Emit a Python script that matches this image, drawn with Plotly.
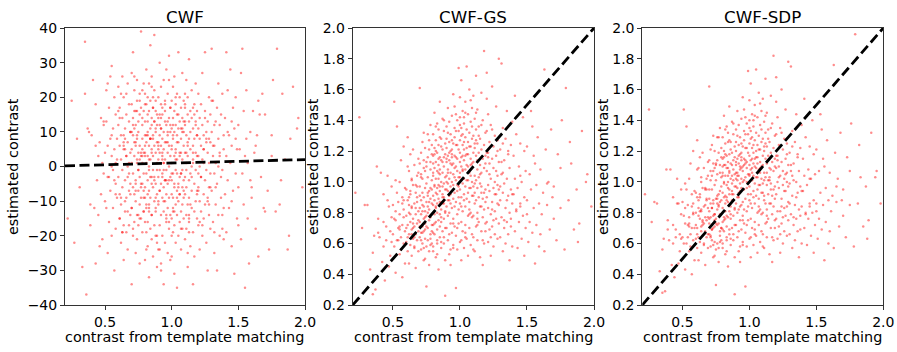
import plotly.graph_objects as go

# Contrast from template matching (x, shared by all three estimators)
template_contrast = [
    0.22, 0.25, 0.27, 0.29,
    0.31, 0.33, 0.35, 0.36, 0.37, 0.38, 0.39,
    0.40, 0.41, 0.42, 0.43, 0.43, 0.44, 0.45, 0.45, 0.46, 0.47, 0.47, 0.48, 0.48, 0.49, 0.49,
    0.50, 0.50, 0.51, 0.51, 0.52, 0.52, 0.53, 0.53, 0.53, 0.54, 0.54, 0.55, 0.55, 0.55,
    0.56, 0.56, 0.57, 0.57, 0.57, 0.58, 0.58, 0.58, 0.59, 0.59, 0.59, 0.52, 0.56,
    0.60, 0.60, 0.60, 0.61, 0.61, 0.61, 0.61, 0.62, 0.62, 0.62, 0.62, 0.63, 0.63, 0.63,
    0.63, 0.64, 0.64, 0.64, 0.64, 0.65, 0.65, 0.65, 0.65, 0.66, 0.66, 0.66, 0.66, 0.67,
    0.67, 0.67, 0.67, 0.68, 0.68, 0.68, 0.68, 0.69, 0.69, 0.69, 0.69, 0.62, 0.65, 0.68,
    0.70, 0.70, 0.70, 0.70, 0.70, 0.70,
    0.71, 0.71, 0.71, 0.71, 0.71, 0.71,
    0.72, 0.72, 0.72, 0.72, 0.72, 0.72,
    0.73, 0.73, 0.73, 0.73, 0.73, 0.73,
    0.74, 0.74, 0.74, 0.74, 0.74, 0.74,
    0.75, 0.75, 0.75, 0.75, 0.75, 0.75,
    0.76, 0.76, 0.76, 0.76, 0.76, 0.76,
    0.77, 0.77, 0.77, 0.77, 0.77,
    0.78, 0.78, 0.78, 0.78, 0.78,
    0.79, 0.79, 0.79, 0.79, 0.79,
    0.80, 0.80, 0.80, 0.80, 0.80, 0.80, 0.80,
    0.81, 0.81, 0.81, 0.81, 0.81, 0.81, 0.81,
    0.82, 0.82, 0.82, 0.82, 0.82, 0.82, 0.82,
    0.83, 0.83, 0.83, 0.83, 0.83, 0.83, 0.83,
    0.84, 0.84, 0.84, 0.84, 0.84, 0.84, 0.84,
    0.85, 0.85, 0.85, 0.85, 0.85, 0.85, 0.85,
    0.86, 0.86, 0.86, 0.86, 0.86, 0.86,
    0.87, 0.87, 0.87, 0.87, 0.87, 0.87,
    0.88, 0.88, 0.88, 0.88, 0.88, 0.88,
    0.89, 0.89, 0.89, 0.89, 0.89, 0.89,
    0.90, 0.90, 0.90, 0.90, 0.90, 0.90, 0.90,
    0.91, 0.91, 0.91, 0.91, 0.91, 0.91, 0.91,
    0.92, 0.92, 0.92, 0.92, 0.92, 0.92, 0.92,
    0.93, 0.93, 0.93, 0.93, 0.93, 0.93, 0.93,
    0.94, 0.94, 0.94, 0.94, 0.94, 0.94, 0.94,
    0.95, 0.95, 0.95, 0.95, 0.95, 0.95, 0.95,
    0.96, 0.96, 0.96, 0.96, 0.96, 0.96,
    0.97, 0.97, 0.97, 0.97, 0.97, 0.97,
    0.98, 0.98, 0.98, 0.98, 0.98, 0.98,
    0.99, 0.99, 0.99, 0.99, 0.99, 0.99,
    1.00, 1.00, 1.00, 1.00, 1.00, 1.00, 1.00,
    1.01, 1.01, 1.01, 1.01, 1.01, 1.01, 1.01,
    1.02, 1.02, 1.02, 1.02, 1.02, 1.02, 1.02,
    1.03, 1.03, 1.03, 1.03, 1.03, 1.03,
    1.04, 1.04, 1.04, 1.04, 1.04, 1.04,
    1.05, 1.05, 1.05, 1.05, 1.05, 1.05,
    1.06, 1.06, 1.06, 1.06, 1.06, 1.06,
    1.07, 1.07, 1.07, 1.07, 1.07, 1.07,
    1.08, 1.08, 1.08, 1.08, 1.08, 1.08,
    1.09, 1.09, 1.09, 1.09, 1.09, 1.09,
    1.10, 1.10, 1.10, 1.10, 1.10, 1.10,
    1.11, 1.11, 1.11, 1.11, 1.11, 1.11,
    1.12, 1.12, 1.12, 1.12, 1.12, 1.12,
    1.13, 1.13, 1.13, 1.13, 1.13, 1.13,
    1.14, 1.14, 1.14, 1.14, 1.14,
    1.15, 1.15, 1.15, 1.15, 1.15,
    1.16, 1.16, 1.16, 1.16, 1.16,
    1.17, 1.17, 1.17, 1.17, 1.17,
    1.18, 1.18, 1.18, 1.18, 1.18,
    1.19, 1.19, 1.19, 1.19, 1.19,
    1.20, 1.20, 1.20, 1.20, 1.20,
    1.21, 1.21, 1.21, 1.21, 1.21,
    1.22, 1.22, 1.22, 1.22,
    1.23, 1.23, 1.23, 1.23,
    1.24, 1.24, 1.24, 1.24,
    1.25, 1.25, 1.25, 1.25,
    1.26, 1.26, 1.26, 1.26,
    1.27, 1.27, 1.27, 1.27,
    1.28, 1.28, 1.28, 1.28,
    1.29, 1.29, 1.29, 1.29,
    1.30, 1.30, 1.30, 1.31, 1.31, 1.31, 1.32, 1.32, 1.32, 1.33, 1.33, 1.33,
    1.34, 1.34, 1.34, 1.35, 1.35, 1.35, 1.36, 1.36, 1.36, 1.37, 1.37, 1.37,
    1.38, 1.38, 1.38, 1.39, 1.39, 1.39,
    1.40, 1.40, 1.41, 1.41, 1.42, 1.42, 1.43, 1.43, 1.44, 1.44, 1.45, 1.45,
    1.46, 1.46, 1.47, 1.47, 1.48, 1.48, 1.49, 1.49, 1.41, 1.45, 1.48,
    1.50, 1.50, 1.51, 1.52, 1.52, 1.53, 1.54, 1.54, 1.55, 1.56, 1.56, 1.57, 1.57,
    1.58, 1.59, 1.59, 1.53,
    1.60, 1.61, 1.62, 1.63, 1.64, 1.65, 1.66, 1.67, 1.68, 1.69, 1.63,
    1.70, 1.72, 1.73, 1.75, 1.76, 1.78, 1.79,
    1.81, 1.83, 1.85, 1.87, 1.89,
    1.91, 1.94, 1.98,
    0.55, 0.58, 0.61, 0.63, 0.64, 0.66, 0.67, 0.69, 0.70, 0.72,
    0.73, 0.74, 0.76, 0.77, 0.78, 0.79, 0.80, 0.81, 0.82, 0.83,
    0.84, 0.85, 0.86, 0.87, 0.88, 0.89, 0.90, 0.91, 0.92, 0.93,
    0.94, 0.95, 0.96, 0.97, 0.98, 0.99, 1.00, 1.01, 1.02, 1.03,
    1.04, 1.05, 1.06, 1.07, 1.08, 1.09, 1.10, 1.11, 1.12, 1.13,
    0.62, 0.65, 0.68, 0.71, 0.74, 0.77, 0.80, 0.83, 0.86, 0.89,
    0.92, 0.95, 0.98, 1.01, 1.04, 1.07, 1.10, 1.13, 1.16, 1.19,
    0.76, 0.79, 0.82, 0.85, 0.88, 0.91, 0.94, 0.97, 1.00, 1.03,
    1.15, 1.18, 1.21, 1.24, 1.27, 1.30, 1.33, 1.36, 1.39, 1.42,
    0.51, 0.54, 0.57, 0.60, 0.63, 0.66, 0.69, 0.72, 0.75, 0.78,
    0.81, 0.84, 0.87, 0.90, 0.93, 0.96, 0.99, 1.02, 1.05, 1.08,
    0.71, 0.73, 0.75, 0.78, 0.80, 0.83, 0.85, 0.88, 0.90, 0.93,
    1.11, 1.14, 1.17, 1.20, 1.23, 1.26, 1.29, 1.32, 1.35, 1.38,
    0.64, 0.67, 0.70, 0.73, 0.76, 0.79, 0.82, 0.85, 0.88, 0.91,
    0.94, 0.97, 1.00, 1.03, 1.06, 1.09, 0.87, 0.84, 0.81, 0.78,
    1.45, 1.50, 1.55, 1.60, 1.65, 1.70, 1.75, 1.82, 1.88, 1.95,
    0.35, 0.39, 0.43, 0.46, 0.49, 0.52, 0.55, 0.58, 0.61, 0.64,
    0.96, 1.00, 1.04, 1.08, 1.12, 1.16, 1.20, 1.24, 1.28, 1.32,
    0.74, 0.77, 0.80, 0.83, 0.86, 0.89, 0.92, 0.95, 0.98, 1.01,
    1.04, 1.07, 1.10, 1.13, 1.16, 1.19, 1.22, 1.25, 1.28, 1.31,
]

# Estimated contrast, plain CWF
cwf_contrast = [
    -15, 19, -22, 8,
    -6, -29, 36, -37, 11, 10, -17,
    9, 25, -12, -28, 18, -4, 3, -14, 7, 14, -8, -21, 1, 12, -2,
    4, -10, 22, 13, -25, 6, -3, 17, -16, 26, -7, 9, -20, 0,
    11, -12, 20, -30, 5, -5, 15, -18, 2, 8, -9, 24, -1,
    12, -3, 23, -15, 6, -8, 17, 2, -22, 9, -11, 26, -6, 14,
    -1, 5, -17, 20, -27, 8, -4, 11, -13, 3, 15, -9, -19, 24,
    0, 7, -24, 13, -7, 18, -2, 10, -14, 4, -5, 21, -10, 1,
    5, -12, 18, -34, 27, 1,
    -6, 14, -20, 9, 33, -2,
    11, -8, 3, -16, 22, 7,
    -25, 16, -4, 12, -10, 6,
    19, -14, 2, 8, -21, 25,
    -1, 13, -7, 4, -17, 10,
    15, -11, 21, -3, 6, -28,
    3, -9, 17, 39, -15,
    8, -19, 12, -5, 1,
    -13, 24, 4, -7, 16,
    4, -16, 21, 9, -6, 13, -27,
    18, -2, 7, -11, 28, 1, -19,
    -8, 15, 3, -23, 10, -4, 20,
    6, -13, 24, 0, -7, 16, -32,
    11, -18, 2, 8, -9, 35, 19,
    -3, 14, -21, 5, 12, -14, 26,
    9, -6, 17, -26, 3, -1,
    22, -10, 6, 13, -17, 38,
    -5, 10, -12, 4, 19, -20,
    15, -8, 1, -29, 7, 12,
    -11, 7, 20, -3, 14, -24, 2,
    9, -17, 4, 30, -7, 12, -1,
    -14, 18, -5, 6, -30, 11, 23,
    3, -9, 15, -20, 8, -2, 17,
    -6, 25, 1, -13, 10, -34, 5,
    13, -4, 19, -10, 2, 16, -22,
    -8, 7, -16, 12, 28, -1,
    21, -12, 4, -25, 9, -5,
    0, 14, -18, 6, -9, 32,
    -3, 10, -14, 17, 3, -27,
    6, -15, 19, -4, 11, -26, 1,
    -9, 14, -2, 23, -19, 8, -12,
    16, -6, 3, -31, 10, -17, 26,
    -1, 12, -11, 5, -22, 18,
    9, -7, 21, -14, 2, -35,
    -5, 15, -20, 7, 33, -10,
    13, -3, -16, 4, 20, -8,
    -13, 8, -24, 17, -2, 11,
    2, -18, 14, -6, 27, -11,
    -7, 19, -15, 10, -4, 6,
    12, -8, 4, -21, 17, -3,
    -14, 9, 25, -6, 1, -18,
    7, -11, 15, -29, 3, 20,
    -4, 13, -16, 8, -9, 31,
    10, -2, -23, 16, 5,
    -12, 22, 0, -7, 14,
    6, -19, 11, -34, 2,
    18, -5, 8, -13, -26,
    -1, 13, -10, 24, 4,
    9, -15, 3, -8, 16,
    -6, 11, -17, 3, 21,
    8, -10, 14, -24, 0,
    -3, 18, -13, 6,
    12, -20, 2, 27,
    -8, 5, -15, 9,
    16, -4, 33, -11,
    -1, 10, -22, 7,
    4, -9, 13, -30,
    -14, 20, 1, -6,
    7, -2, 15, -18,
    10, -7, 34, -16, 3, 19, 6, -25, -2, 13, -11, 1,
    -5, 17, -30, 8, -14, 24, -20, 4, 12, 15, -3, -9,
    -1, 21, -18, 5, -12, 9,
    -8, 14, 3, -19, 22, -4, 9, -12, 28, 1, -23, 6,
    17, -7, -31, 11, -2, 20, -15, 5, 33, -10, 8,
    12, -6, 5, -21, 27, -2, 16, -11, -35, 8, 22, -15, 1,
    -28, 10, -4, 34,
    -9, 16, 4, -18, 9, -26, 15, -3, 21, -12, 6,
    15, -7, -24, 3, 25, -13, 34,
    -11, 21, 2, -24, 8,
    23, 11, -6,
    3, -8, 14, -19, 7, 21, -3, 10, -12, 16,
    -5, 9, -15, 4, 22, -9, 6, -24, 13, -1,
    8, -14, 17, -3, 11, -20, 5, -7, 14, 2,
    -10, 18, -4, 7, -16, 12, -2, 9, -13, 4,
    15, -6, 3, -18, 10, -9, 21, -1, 6, -14,
    -9, 5, -17, 12, 1, -6, 18, -11, 8, -22,
    11, -4, 25, -13, 7, -2, 13, -19, 4, -7,
    2, -13, 9, -5, 16, -24, 1, 13, -8, 20,
    -3, 12, -16, 5, -10, 19, -6, 3, -21, 10,
    -12, 8, -4, 16, -19, 3, -8, 26, -14, 5,
    9, -3, 13, -10, 4, -15, 17, -5, 11, -1,
    -18, 7, -1, 14, -9, 2, 23, -13, 6, -3,
    4, -11, 15, -2, -17, 8, -6, 12, 0, -14,
    6, -13, 10, -7, 19, -2, -16, 4, -9, 15,
    -1, 10, -20, 2, -8, 13, -4, 8, -12, 3,
    13, -17, 3, -6, 19, -13, 9, -4, -20, 14,
    21, -11, 6, -23, 13, -3, 29, 1, -15, 9,
    -14, 5, -2, 11, -25, 17, -7, 1, 8, -19,
    16, -5, 3, -12, 20, -1, -28, 7, -4, 12,
    -9, 4, 18, -15, 1, 9, -3, 14, -11, 6,
]

# Estimated contrast, CWF-GS
gs_contrast = [
    0.93, 1.42, 0.70, 0.85,
    0.85, 0.43, 0.27, 0.65, 0.30, 1.10, 0.76,
    0.64, 1.06, 0.48, 0.58, 0.92, 0.36, 0.71, 0.62, 1.04, 0.45, 0.84, 0.68, 0.52, 0.77, 0.97,
    0.66, 0.85, 1.52, 0.58, 0.75, 0.41, 0.93, 0.62, 1.36, 0.70, 0.87, 0.53, 1.00, 0.79,
    0.64, 1.14, 0.72, 0.38, 0.90, 0.60, 0.82, 1.23, 0.68, 0.96, 0.47, 0.81, 0.56,
    0.78, 0.95, 0.61, 1.29, 0.72, 0.55, 0.88, 0.66, 1.07, 0.80, 0.47, 0.74, 0.92, 0.59,
    1.18, 0.69, 0.84, 1.01, 0.52, 0.76, 0.63, 0.98, 1.21, 0.71, 0.86, 0.57, 1.11, 0.66,
    0.79, 0.93, 0.44, 0.73, 1.04, 0.62, 0.87, 0.68, 0.81, 1.15, 0.55, 0.90, 0.70, 0.97,
    0.83, 1.12, 0.64, 0.97, 1.61, 0.74,
    0.88, 0.56, 1.05, 0.79, 1.19, 0.67,
    0.93, 0.71, 1.26, 0.60, 0.85, 1.02,
    0.76, 1.14, 0.49, 0.90, 0.68, 1.32,
    0.81, 1.07, 0.63, 0.96, 1.22, 0.73,
    0.87, 0.58, 1.10, 0.78, 0.99, 0.32,
    0.70, 1.16, 0.84, 0.62, 1.03, 0.91,
    0.75, 1.27, 0.55, 0.94, 0.82,
    1.08, 0.66, 0.89, 1.37, 0.77,
    0.95, 0.72, 1.18, 0.60, 0.86,
    0.91, 1.17, 0.72, 1.04, 0.58, 1.31, 0.85,
    1.09, 0.79, 1.45, 0.66, 0.97, 1.22, 0.88,
    0.74, 1.13, 0.93, 0.51, 1.27, 1.02, 0.83,
    1.19, 0.69, 0.96, 1.38, 0.80, 1.07, 0.62,
    0.89, 1.24, 0.75, 1.11, 0.43, 0.98, 1.34,
    1.05, 0.71, 1.16, 0.87, 1.52, 0.64, 0.94,
    1.28, 0.82, 1.00, 0.57, 1.14, 0.77,
    0.92, 1.21, 0.68, 1.06, 1.41, 0.86,
    1.10, 0.76, 0.99, 1.33, 0.60, 0.90,
    0.81, 1.18, 0.95, 0.26, 1.25, 1.03,
    1.13, 0.84, 1.36, 0.95, 0.70, 1.22, 1.04,
    0.78, 1.17, 0.99, 1.48, 0.62, 1.08, 0.88,
    1.26, 0.91, 0.53, 1.14, 1.02, 0.80, 1.39,
    0.97, 1.20, 0.73, 1.06, 1.31, 0.86, 0.46,
    1.11, 0.83, 1.43, 0.94, 0.67, 1.18, 1.00,
    0.76, 1.25, 1.05, 0.89, 1.57, 0.59, 1.12,
    0.93, 1.29, 0.71, 1.09, 0.84, 1.35,
    1.16, 0.65, 1.01, 1.24, 0.87, 0.31,
    0.98, 1.40, 0.79, 1.15, 0.56, 1.07,
    1.21, 0.90, 1.74, 0.73, 1.03, 1.33,
    1.19, 0.86, 1.42, 1.03, 0.61, 1.27, 0.95,
    1.10, 0.74, 1.35, 0.90, 1.66, 1.16, 0.49,
    0.99, 1.24, 0.81, 1.46, 1.07, 0.68, 1.31,
    1.14, 0.92, 1.38, 0.57, 1.21, 1.02,
    0.84, 1.29, 1.08, 0.72, 1.52, 0.97,
    1.18, 0.63, 1.34, 0.89, 1.11, 1.75,
    1.01, 1.26, 0.78, 1.44, 0.93, 0.52,
    1.23, 0.87, 1.06, 1.60, 0.70, 1.32,
    0.96, 1.15, 0.80, 1.39, 1.04, 0.59,
    1.28, 0.91, 1.12, 0.66, 1.48, 1.00,
    1.13, 0.78, 1.30, 0.97, 1.56, 0.64,
    1.04, 1.22, 0.86, 0.55, 1.41, 0.93,
    1.17, 0.71, 1.01, 1.34, 0.88, 1.69,
    0.96, 1.25, 0.62, 1.08, 0.80, 1.47,
    1.19, 0.90, 1.36, 0.74, 1.03,
    0.84, 1.11, 0.51, 1.28, 0.99,
    1.21, 0.93, 1.58, 0.68, 1.06,
    0.77, 1.15, 1.40, 0.89, 0.46,
    1.09, 0.82, 1.24, 0.60, 1.85,
    0.95, 1.32, 0.73, 1.12, 0.87,
    1.07, 0.74, 1.33, 0.90, 1.71,
    0.98, 1.19, 0.61, 1.44, 0.83,
    1.12, 0.69, 1.26, 0.94,
    0.79, 1.37, 1.02, 0.52,
    1.15, 0.87, 1.62, 0.71,
    0.96, 1.23, 0.58, 1.09,
    0.81, 1.30, 1.00, 0.66,
    1.17, 0.92, 1.49, 0.76,
    1.04, 0.63, 1.27, 0.86,
    0.73, 1.13, 1.80, 0.95,
    0.88, 1.21, 0.64, 1.05, 0.77, 1.77, 0.93, 1.35, 0.55, 1.14, 0.70, 0.99,
    0.83, 1.28, 0.60, 1.02, 0.74, 1.46, 0.91, 0.66, 1.18, 0.80, 1.09, 0.49,
    1.24, 0.95, 0.71, 0.86, 1.39, 0.58,
    0.92, 1.17, 0.68, 1.02, 0.81, 1.31, 0.57, 0.96, 1.10, 0.74, 0.86, 1.25,
    0.63, 1.00, 0.78, 1.42, 0.90, 0.52, 1.07, 0.70, 1.56, 0.84, 1.20,
    0.88, 1.23, 0.61, 1.05, 0.74, 0.95, 1.36, 0.67, 0.83, 1.12, 0.47, 0.98, 0.72,
    1.29, 0.86, 0.58, 1.46,
    1.08, 0.79, 0.93, 0.55, 1.21, 0.85, 1.00, 0.69, 1.34, 0.90, 1.73,
    0.97, 0.62, 1.18, 0.83, 1.40, 0.56, 1.61,
    0.88, 1.12, 0.69, 0.95, 0.73,
    1.33, 1.00, 0.84,
    0.71, 0.88, 0.64, 0.79, 1.02, 0.58, 0.83, 0.75, 0.91, 0.67,
    1.09, 0.69, 0.80, 1.21, 0.63, 1.01, 1.12, 0.73, 1.20, 0.86,
    1.15, 0.79, 1.23, 0.97, 1.16, 0.70, 1.28, 0.94, 1.19, 1.12,
    1.27, 0.98, 1.17, 1.33, 1.24, 0.82, 1.13, 1.30, 1.17, 1.26,
    1.17, 1.22, 1.10, 0.96, 1.23, 1.36, 1.19, 0.99, 1.27, 1.14,
    0.85, 0.73, 0.90, 0.62, 0.77, 0.87, 0.67, 0.92, 0.74, 0.80,
    0.88, 0.73, 0.94, 0.84, 0.67, 0.79, 0.91, 0.72, 0.84, 1.17,
    1.31, 1.24, 1.36, 1.29, 1.40, 1.32, 1.21, 1.44, 1.37, 1.42,
    1.05, 0.93, 1.16, 0.82, 1.07, 0.97, 0.75, 1.20, 0.92, 0.82,
    0.76, 0.62, 0.86, 0.70, 0.94, 0.64, 1.06, 0.81, 0.71, 0.96,
    0.98, 1.06, 0.90, 1.00, 0.92, 1.03, 0.97, 1.08, 1.01, 1.11,
    1.03, 0.57, 1.13, 0.59, 1.06, 0.60, 1.08, 0.64, 1.15, 0.56,
    1.25, 1.30, 0.62, 1.19, 0.64, 0.92, 0.85, 1.06, 0.88, 0.76,
    0.66, 0.98, 0.71, 0.84, 0.93, 0.68, 0.84, 0.97, 0.86, 1.06,
    1.16, 1.10, 1.06, 0.88, 1.18, 0.77, 1.13, 1.02, 1.18, 1.13,
    1.04, 0.79, 1.17, 0.66, 0.99, 0.76, 1.09, 1.26, 0.61, 1.05,
    0.54, 0.67, 0.74, 0.88, 0.61, 1.01, 0.69, 0.77, 1.10, 0.83,
    1.49, 1.55, 1.45, 1.53, 1.45, 1.37, 1.54, 1.34, 1.20, 1.25,
    0.50, 0.46, 0.55, 0.53, 0.61, 0.49, 0.66, 0.57, 0.70, 0.62,
    0.64, 0.82, 0.56, 0.76, 0.97, 0.68, 1.05, 0.75, 0.98, 1.13,
]

# Estimated contrast, CWF-SDP
sdp_contrast = [
    0.92, 1.47, 0.74, 0.87,
    0.86, 0.42, 0.28, 0.63, 0.29, 1.08, 0.75,
    0.62, 1.08, 0.46, 0.60, 0.90, 0.38, 0.69, 0.64, 1.02, 0.47, 0.86, 0.66, 0.55, 0.79, 0.95,
    0.64, 0.87, 1.47, 0.60, 0.73, 0.43, 0.95, 0.60, 1.36, 0.72, 0.85, 0.55, 1.02, 0.77,
    0.66, 1.12, 0.70, 0.40, 0.92, 0.62, 0.80, 1.20, 0.70, 0.94, 0.49, 0.83, 0.58,
    0.80, 0.93, 0.63, 1.27, 0.70, 0.57, 0.90, 0.64, 1.09, 0.78, 0.49, 0.76, 0.90, 0.61,
    1.16, 0.71, 0.82, 1.03, 0.54, 0.74, 0.65, 0.96, 1.19, 0.73, 0.84, 0.59, 1.09, 0.68,
    0.77, 0.95, 0.46, 0.75, 1.02, 0.64, 0.89, 0.66, 0.83, 1.13, 0.57, 0.88, 0.72, 0.95,
    0.81, 1.14, 0.66, 0.95, 1.62, 0.76,
    0.86, 0.58, 1.07, 0.77, 1.21, 0.65,
    0.95, 0.69, 1.24, 0.62, 0.83, 1.04,
    0.78, 1.12, 0.51, 0.88, 0.70, 1.30,
    0.79, 1.09, 0.61, 0.98, 1.20, 0.75,
    0.89, 0.56, 1.12, 0.76, 1.01, 0.33,
    0.72, 1.14, 0.86, 0.60, 1.05, 0.89,
    0.73, 1.29, 0.57, 0.92, 0.84,
    1.06, 0.68, 0.87, 1.35, 0.79,
    0.97, 0.70, 1.16, 0.62, 0.88,
    0.93, 1.15, 0.74, 1.06, 0.60, 1.29, 0.83,
    1.11, 0.77, 1.43, 0.68, 0.99, 1.20, 0.90,
    0.76, 1.11, 0.91, 0.53, 1.25, 1.04, 0.81,
    1.17, 0.71, 0.98, 1.36, 0.78, 1.09, 0.64,
    0.87, 1.26, 0.77, 1.09, 0.45, 0.96, 1.32,
    1.07, 0.69, 1.18, 0.85, 1.49, 0.66, 0.92,
    1.26, 0.84, 1.02, 0.59, 1.12, 0.79,
    0.94, 1.19, 0.70, 1.04, 1.39, 0.88,
    1.08, 0.78, 1.01, 1.31, 0.62, 0.92,
    0.83, 1.16, 0.97, 0.27, 1.23, 1.05,
    1.11, 0.86, 1.34, 0.97, 0.72, 1.20, 1.06,
    0.80, 1.15, 1.01, 1.46, 0.64, 1.06, 0.90,
    1.24, 0.93, 0.55, 1.12, 1.04, 0.82, 1.37,
    0.99, 1.18, 0.75, 1.08, 1.29, 0.84, 0.48,
    1.09, 0.85, 1.41, 0.96, 0.69, 1.16, 1.02,
    0.78, 1.23, 1.07, 0.87, 1.55, 0.61, 1.10,
    0.95, 1.27, 0.73, 1.11, 0.82, 1.33,
    1.14, 0.67, 1.03, 1.22, 0.89, 0.32,
    1.00, 1.38, 0.81, 1.13, 0.58, 1.09,
    1.19, 0.92, 1.72, 0.75, 1.05, 1.31,
    1.17, 0.88, 1.40, 1.05, 0.63, 1.25, 0.97,
    1.08, 0.76, 1.33, 0.92, 1.64, 1.14, 0.51,
    1.01, 1.22, 0.83, 1.44, 1.09, 0.70, 1.29,
    1.12, 0.94, 1.36, 0.59, 1.19, 1.04,
    0.86, 1.27, 1.10, 0.74, 1.50, 0.99,
    1.16, 0.65, 1.32, 0.91, 1.09, 1.73,
    1.03, 1.24, 0.80, 1.42, 0.95, 0.54,
    1.21, 0.89, 1.08, 1.58, 0.72, 1.30,
    0.98, 1.13, 0.82, 1.37, 1.06, 0.61,
    1.26, 0.93, 1.10, 0.68, 1.46, 1.02,
    1.11, 0.80, 1.28, 0.99, 1.54, 0.66,
    1.06, 1.20, 0.88, 0.57, 1.39, 0.91,
    1.15, 0.73, 1.03, 1.32, 0.86, 1.67,
    0.98, 1.23, 0.64, 1.06, 0.82, 1.45,
    1.17, 0.92, 1.34, 0.76, 1.01,
    0.86, 1.09, 0.53, 1.26, 1.01,
    1.19, 0.95, 1.56, 0.70, 1.08,
    0.79, 1.13, 1.38, 0.91, 0.48,
    1.07, 0.84, 1.22, 0.62, 1.82,
    0.97, 1.30, 0.75, 1.10, 0.89,
    1.09, 0.76, 1.31, 0.92, 1.68,
    1.00, 1.17, 0.63, 1.42, 0.81,
    1.10, 0.71, 1.24, 0.96,
    0.81, 1.35, 1.04, 0.54,
    1.13, 0.89, 1.60, 0.73,
    0.98, 1.21, 0.60, 1.07,
    0.83, 1.28, 1.02, 0.68,
    1.15, 0.94, 1.47, 0.78,
    1.06, 0.65, 1.25, 0.84,
    0.75, 1.11, 1.78, 0.97,
    0.86, 1.19, 0.66, 1.07, 0.79, 1.75, 0.91, 1.33, 0.57, 1.12, 0.72, 1.01,
    0.85, 1.26, 0.62, 1.00, 0.76, 1.44, 0.93, 0.68, 1.16, 0.82, 1.07, 0.51,
    1.22, 0.97, 0.69, 0.84, 1.37, 0.60,
    0.94, 1.15, 0.70, 1.04, 0.79, 1.29, 0.59, 0.98, 1.08, 0.76, 0.84, 1.23,
    0.65, 1.02, 0.80, 1.40, 0.88, 0.54, 1.05, 0.72, 1.54, 0.86, 1.18,
    0.86, 1.21, 0.63, 1.07, 0.76, 0.93, 1.34, 0.69, 0.85, 1.10, 0.49, 0.96, 0.74,
    1.27, 0.88, 0.60, 1.44,
    1.06, 0.81, 0.91, 0.57, 1.19, 0.87, 1.02, 0.71, 1.32, 0.88, 1.76,
    0.95, 0.64, 1.16, 0.85, 1.38, 0.58, 1.96,
    0.86, 1.03, 0.71, 0.97, 0.75,
    1.32, 1.03, 0.86,
    0.73, 0.86, 0.66, 0.81, 1.00, 0.60, 0.85, 0.77, 0.89, 0.69,
    1.07, 0.71, 0.82, 1.19, 0.65, 1.03, 1.10, 0.75, 1.18, 0.88,
    1.13, 0.81, 1.21, 0.99, 1.14, 0.72, 1.26, 0.96, 1.17, 1.10,
    1.25, 1.00, 1.15, 1.31, 1.22, 0.84, 1.11, 1.28, 1.15, 1.24,
    1.15, 1.20, 1.12, 0.98, 1.21, 1.34, 1.17, 1.01, 1.25, 1.12,
    0.83, 0.75, 0.88, 0.64, 0.79, 0.85, 0.69, 0.90, 0.76, 0.82,
    0.90, 0.75, 0.96, 0.86, 0.69, 0.81, 0.93, 0.74, 0.86, 1.15,
    1.29, 1.22, 1.34, 1.27, 1.38, 1.30, 1.19, 1.42, 1.35, 1.40,
    1.03, 0.95, 1.14, 0.84, 1.05, 0.99, 0.77, 1.18, 0.94, 0.80,
    0.78, 0.64, 0.84, 0.72, 0.92, 0.66, 1.04, 0.83, 0.73, 0.94,
    1.00, 1.04, 0.92, 1.02, 0.94, 1.01, 0.99, 1.06, 1.03, 1.09,
    1.01, 0.59, 1.11, 0.61, 1.04, 0.62, 1.06, 0.66, 1.13, 0.58,
    1.23, 1.28, 0.64, 1.17, 0.66, 0.94, 0.87, 1.04, 0.90, 0.78,
    0.68, 0.96, 0.73, 0.86, 0.91, 0.70, 0.86, 0.95, 0.88, 1.04,
    1.14, 1.12, 1.04, 0.90, 1.16, 0.79, 1.11, 1.00, 1.16, 1.11,
    1.02, 0.81, 1.15, 0.68, 0.97, 0.78, 1.07, 1.24, 0.63, 1.07,
    0.56, 0.69, 0.72, 0.86, 0.63, 0.99, 0.71, 0.79, 1.08, 0.81,
    1.47, 1.53, 1.43, 1.51, 1.43, 1.35, 1.52, 1.32, 1.18, 1.23,
    0.52, 0.48, 0.57, 0.55, 0.63, 0.51, 0.68, 0.59, 0.72, 0.64,
    0.66, 0.84, 0.58, 0.78, 0.99, 0.70, 1.03, 0.77, 1.00, 1.11,
]

assert len(template_contrast) == len(cwf_contrast) == len(gs_contrast) == len(sdp_contrast)

titles = ["CWF", "CWF-GS", "CWF-SDP"]
estimates = [cwf_contrast, gs_contrast, sdp_contrast]
y_ranges = [[-40, 40], [0.2, 2.0]]
x_range = [0.2, 2.0]
x_ticks = [0.5, 1.0, 1.5, 2.0]
cwf_ticks = [-40, -30, -20, -10, 0, 10, 20, 30, 40]
ratio_ticks = [0.2, 0.4, 0.6, 0.8, 1.0, 1.2, 1.4, 1.6, 1.8, 2.0]

W, H = 897, 352
FONT = "DejaVu Sans"
axis_color = "#333333"
x_domains = [[65 / W, 305 / W], [352.7 / W, 594 / W], [642.3 / W, 883.3 / W]]
y_domain = [1 - 305 / H, 1 - 28 / H]
ylabel_x = [12.5 / W, 312.5 / W, 602.5 / W]

fig = go.Figure()
layout = dict(
    template="none",
    width=W, height=H,
    margin=dict(l=0, r=0, t=0, b=0, autoexpand=False),
    paper_bgcolor="white", plot_bgcolor="white",
    showlegend=False,
    font=dict(family=FONT, color="black"),
    annotations=[],
)

for i in range(3):
    sfx = "" if i == 0 else str(i + 1)
    xa, ya = "x" + sfx, "y" + sfx
    fig.add_trace(go.Scatter(
        x=template_contrast, y=estimates[i], mode="markers",
        marker=dict(size=2.5, color="rgba(255,0,0,0.45)", line=dict(width=0)),
        xaxis=xa, yaxis=ya, hoverinfo="skip",
    ))
    # identity line y = x
    fig.add_trace(go.Scatter(
        x=x_range, y=x_range, mode="lines",
        line=dict(color="black", width=2.8, dash="10px,4.5px"),
        xaxis=xa, yaxis=ya, hoverinfo="skip",
    ))
    common = dict(
        automargin=False,
        showline=True, linecolor=axis_color, linewidth=1, mirror=True,
        ticks="outside", ticklen=4, tickwidth=1, tickcolor=axis_color,
        showgrid=False, zeroline=False,
        tickfont=dict(family=FONT, size=14, color="black"),
    )
    layout["xaxis" + sfx] = dict(
        domain=x_domains[i], range=x_range, anchor=ya,
        tickvals=x_ticks, tickformat=".1f", **common,
    )
    if i == 0:
        yax = dict(range=y_ranges[0], tickvals=cwf_ticks)
    else:
        yax = dict(range=y_ranges[1], tickvals=ratio_ticks, tickformat=".1f")
    layout["yaxis" + sfx] = dict(domain=y_domain, anchor=xa, **yax, **common)

    cx = (x_domains[i][0] + x_domains[i][1]) / 2
    layout["annotations"] += [
        dict(text=titles[i], x=cx, y=1 - 16.5 / H, xref="paper", yref="paper",
             xanchor="center", yanchor="middle", showarrow=False,
             font=dict(family=FONT, size=16.7, color="black")),
        dict(text="contrast from template matching", x=cx, y=1 - 337 / H,
             xref="paper", yref="paper", xanchor="center", yanchor="middle",
             showarrow=False, font=dict(family=FONT, size=14.4, color="black")),
        dict(text="estimated contrast", x=ylabel_x[i], y=(y_domain[0] + y_domain[1]) / 2,
             xref="paper", yref="paper", xanchor="center", yanchor="middle",
             textangle=-90, showarrow=False,
             font=dict(family=FONT, size=14.4, color="black")),
    ]

fig.update_layout(**layout)
fig.write_html("out.html")
